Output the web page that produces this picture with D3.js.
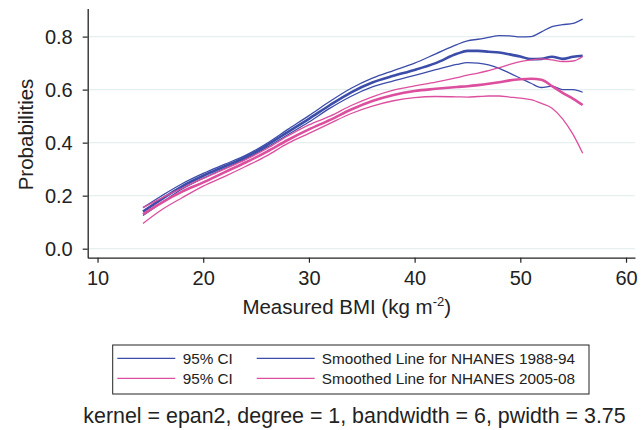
<!DOCTYPE html>
<html>
<head>
<meta charset="utf-8">
<script src="https://cdn.jsdelivr.net/npm/d3@7"></script>
<style>
  body { margin: 0; background: #fff; }
  svg { display: block; font-family: "Liberation Sans", Arial, Helvetica, sans-serif; }
</style>
</head>
<body>
<svg id="chart" width="644" height="430"></svg>
<script>
// ---- data ----
const bmi        = [14.3, 16, 18, 20, 22, 24, 26, 28, 30, 32, 34, 36, 38, 40, 42, 44, 45, 46, 47, 48, 49, 50, 51, 52, 53, 54, 55, 55.9];
const blueSmooth = [0.140, 0.185, 0.235, 0.275, 0.310, 0.345, 0.390, 0.440, 0.490, 0.542, 0.590, 0.627, 0.652, 0.674, 0.700, 0.735, 0.746, 0.746, 0.743, 0.740, 0.733, 0.725, 0.715, 0.716, 0.724, 0.716, 0.724, 0.728];
const blueUpper  = [0.155, 0.198, 0.245, 0.284, 0.318, 0.352, 0.397, 0.450, 0.502, 0.556, 0.605, 0.643, 0.672, 0.700, 0.735, 0.770, 0.784, 0.790, 0.797, 0.804, 0.803, 0.799, 0.800, 0.818, 0.838, 0.845, 0.850, 0.866];
const blueLower  = [0.125, 0.172, 0.225, 0.266, 0.302, 0.338, 0.382, 0.430, 0.478, 0.530, 0.575, 0.610, 0.633, 0.654, 0.675, 0.695, 0.702, 0.700, 0.693, 0.680, 0.662, 0.643, 0.624, 0.608, 0.613, 0.600, 0.600, 0.590];
const pinkSmooth = [0.130, 0.172, 0.215, 0.250, 0.288, 0.325, 0.365, 0.410, 0.450, 0.486, 0.525, 0.557, 0.580, 0.595, 0.603, 0.610, 0.613, 0.617, 0.622, 0.628, 0.635, 0.639, 0.641, 0.637, 0.613, 0.588, 0.565, 0.542];
const pinkUpper  = [0.155, 0.190, 0.228, 0.265, 0.300, 0.336, 0.377, 0.425, 0.467, 0.500, 0.540, 0.573, 0.598, 0.614, 0.628, 0.645, 0.655, 0.662, 0.672, 0.683, 0.695, 0.706, 0.712, 0.716, 0.712, 0.706, 0.708, 0.725];
const pinkLower  = [0.095, 0.145, 0.192, 0.236, 0.272, 0.310, 0.350, 0.397, 0.435, 0.473, 0.510, 0.538, 0.558, 0.570, 0.574, 0.573, 0.572, 0.574, 0.576, 0.576, 0.572, 0.568, 0.562, 0.548, 0.530, 0.490, 0.430, 0.360];

const xTicks = [10, 20, 30, 40, 50, 60];
const yTicks = [0, 0.2, 0.4, 0.6, 0.8];
const legendLabels = ["95% CI", "Smoothed Line for NHANES 1988-94", "95% CI", "Smoothed Line for NHANES 2005-08"];
const note = "kernel = epan2, degree = 1, bandwidth = 6, pwidth = 3.75";

// ---- styles ----
const BLUE = "#3b4ca9";
const PINK = "#dc4f9e";
const TEXT = "#222";
const GRID = "#e6f0f0";

const svg = d3.select("#chart");

const x = d3.scaleLinear().domain([9.07, 60.85]).range([87.7, 635]);
const y = d3.scaleLinear().domain([-0.034, 0.906]).range([257.7, 8.5]);

// gridlines
svg.append("g").selectAll("line").data(yTicks).join("line")
  .attr("x1", 88.5).attr("x2", 635)
  .attr("y1", d => y(d)).attr("y2", d => y(d))
  .attr("stroke", GRID).attr("stroke-width", 1.2);

// axes
const yAxis = svg.append("g").attr("transform", "translate(87.7,0)")
  .call(d3.axisLeft(y).tickValues(yTicks).tickFormat(d3.format(".1f")).tickSize(5).tickSizeOuter(0).tickPadding(10));
const xAxis = svg.append("g").attr("transform", "translate(0,257.7)")
  .call(d3.axisBottom(x).tickValues(xTicks).tickFormat(d3.format("d")).tickSize(5).tickSizeOuter(0));
[yAxis, xAxis].forEach(g => {
  g.select(".domain").attr("stroke", TEXT).attr("stroke-width", 1.3);
  g.selectAll(".tick line").attr("stroke", TEXT).attr("stroke-width", 1.2);
  g.selectAll(".tick text").attr("fill", TEXT).style("font-size", "20px").style("font-family", "'Liberation Sans', Arial, sans-serif");
});
yAxis.selectAll(".tick text").attr("dy", "0.36em");
xAxis.selectAll(".tick text").attr("y", 27.3).attr("dy", 0);

// lines
const line = d3.line().x((d, i) => x(bmi[i])).y(d => y(d)).curve(d3.curveMonotoneX);
const series = [
  { v: blueUpper, c: BLUE, w: 1.3 },
  { v: blueLower, c: BLUE, w: 1.3 },
  { v: blueSmooth, c: BLUE, w: 2.6 },
  { v: pinkUpper, c: PINK, w: 1.3 },
  { v: pinkLower, c: PINK, w: 1.3 },
  { v: pinkSmooth, c: PINK, w: 2.6 }
];
svg.append("g").selectAll("path").data(series).join("path")
  .attr("d", d => line(d.v))
  .attr("fill", "none")
  .attr("stroke", d => d.c)
  .attr("stroke-width", d => d.w)
  .attr("stroke-linejoin", "round");

// axis titles
svg.append("text")
  .attr("transform", "translate(33,134.5) rotate(-90)")
  .attr("text-anchor", "middle")
  .attr("fill", TEXT).style("font-size", "20.5px")
  .text("Probabilities");

const xt = svg.append("text")
  .attr("x", 346.7).attr("y", 314)
  .attr("text-anchor", "middle")
  .attr("fill", TEXT).style("font-size", "20.5px");
xt.append("tspan").text("Measured BMI (kg m");
xt.append("tspan").attr("dy", -8).style("font-size", "13px").text("-2");
xt.append("tspan").attr("dy", 8).text(")");

// legend
const lg = svg.append("g");
lg.append("rect").attr("x", 112.7).attr("y", 345).attr("width", 476.3).attr("height", 49)
  .attr("fill", "#fff").attr("stroke", TEXT).attr("stroke-width", 1);
const legendItems = [
  { label: legendLabels[0], c: BLUE, lx: 117.3, tx: 182.7, ly: 358.3 },
  { label: legendLabels[1], c: BLUE, lx: 256.7, tx: 321.7, ly: 358.3 },
  { label: legendLabels[2], c: PINK, lx: 117.3, tx: 182.7, ly: 378.3 },
  { label: legendLabels[3], c: PINK, lx: 256.7, tx: 321.7, ly: 378.3 }
];
const li = lg.selectAll("g.item").data(legendItems).join("g").attr("class", "item");
li.append("line").attr("x1", d => d.lx).attr("x2", d => d.lx + 58)
  .attr("y1", d => d.ly).attr("y2", d => d.ly)
  .attr("stroke", d => d.c).attr("stroke-width", 1.3);
li.append("text").attr("x", d => d.tx).attr("y", d => d.ly)
  .attr("dy", "0.36em").attr("fill", TEXT).style("font-size", "15.3px")
  .text(d => d.label);

// note
svg.append("text").attr("x", 354.5).attr("y", 422.5)
  .attr("text-anchor", "middle").attr("fill", TEXT).style("font-size", "21.4px")
  .text(note);
</script>
</body>
</html>
